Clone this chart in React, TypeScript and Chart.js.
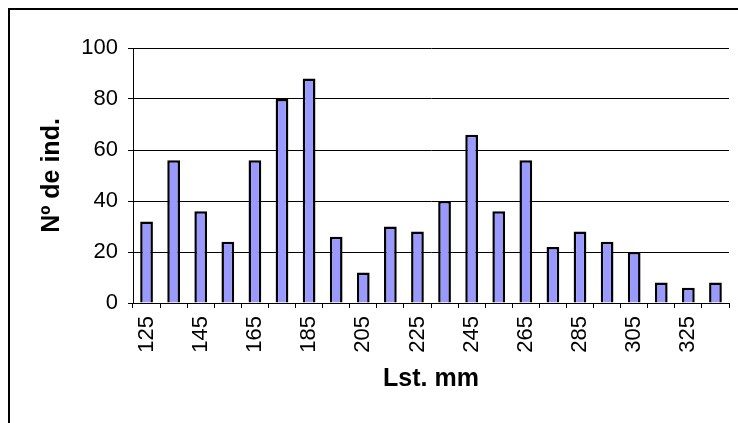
import React, { useEffect, useRef } from "react";
import { Chart, registerables } from "chart.js";

Chart.register(...registerables);

// Length classes (mm) and number of individuals in each class
const lengthClasses = [
  "125", "135", "145", "155", "165", "175", "185", "195", "205", "215", "225",
  "235", "245", "255", "265", "275", "285", "295", "305", "315", "325", "335",
];
const individuals = [32, 56, 36, 24, 56, 80, 88, 26, 12, 30, 28, 40, 66, 36, 56, 22, 28, 24, 20, 8, 6, 8];

const yMin = 0;
const yMax = 100;
const yStep = 20;

const xTitle = "Lst. mm";
const yTitle = "Nº de ind.";

const FONT = "'Liberation Sans', Arial, Helvetica, sans-serif";
const W = 722;
const H = 407;

export default function App() {
  const canvasRef = useRef<HTMLCanvasElement | null>(null);

  useEffect(() => {
    const canvas = canvasRef.current;
    if (!canvas) return;
    const chart = new Chart(canvas, {
      type: "bar",
      data: {
        labels: lengthClasses,
        datasets: [
          {
            data: individuals,
            backgroundColor: "#9999FF",
            borderColor: "#000000",
            borderWidth: 2.5,
            categoryPercentage: 1,
            barPercentage: 0.47,
          },
        ],
      },
      options: {
        responsive: false,
        animation: false,
        devicePixelRatio: 1,
        layout: { padding: { top: 40, right: 1, left: 0, bottom: 0 } },
        plugins: {
          legend: { display: false },
          tooltip: { enabled: false },
        },
        scales: {
          x: {
            afterFit: (scale: any) => {
              scale.height = 112;
              scale.paddingLeft = 0;
              scale.paddingRight = 0;
            },
            grid: {
              display: true,
              drawOnChartArea: false,
              drawTicks: true,
              tickLength: 5,
              offset: true,
              color: "#000000",
              lineWidth: 1,
            },
            border: { display: true, color: "#000000", width: 1 },
            ticks: {
              autoSkip: false,
              minRotation: 90,
              maxRotation: 90,
              padding: 8,
              color: "#000000",
              font: { family: FONT, size: 22 },
              callback: (_v: any, i: number) => (i % 2 === 0 ? lengthClasses[i] : ""),
            },
            title: {
              display: true,
              text: xTitle,
              color: "#000000",
              font: { family: FONT, size: 25, weight: "bold" },
              padding: { top: 0, bottom: 21 },
            },
          },
          y: {
            min: yMin,
            max: yMax,
            afterFit: (scale: any) => {
              scale.width = 125;
            },
            grid: {
              color: "#000000",
              lineWidth: 1,
              drawTicks: true,
              tickLength: 5,
            },
            border: { display: true, color: "#000000", width: 1 },
            ticks: {
              stepSize: yStep,
              padding: 10,
              color: "#000000",
              font: { family: FONT, size: 22 },
            },
            title: {
              display: true,
              text: yTitle,
              color: "#000000",
              font: { family: FONT, size: 25, weight: "bold" },
              padding: { top: 29, bottom: 0 },
            },
          },
        },
      },
    });
    return () => chart.destroy();
  }, []);

  return (
    <div style={{ position: "relative", width: W, height: H, background: "#fff" }}>
      <canvas ref={canvasRef} width={W} height={H} style={{ position: "absolute", left: 0, top: 0 }} />
      <div
        style={{
          position: "fixed",
          left: 8,
          top: 8,
          right: 0,
          bottom: 0,
          boxSizing: "border-box",
          borderTop: "2px solid #000",
          borderLeft: "2px solid #000",
          pointerEvents: "none",
        }}
      />
    </div>
  );
}
